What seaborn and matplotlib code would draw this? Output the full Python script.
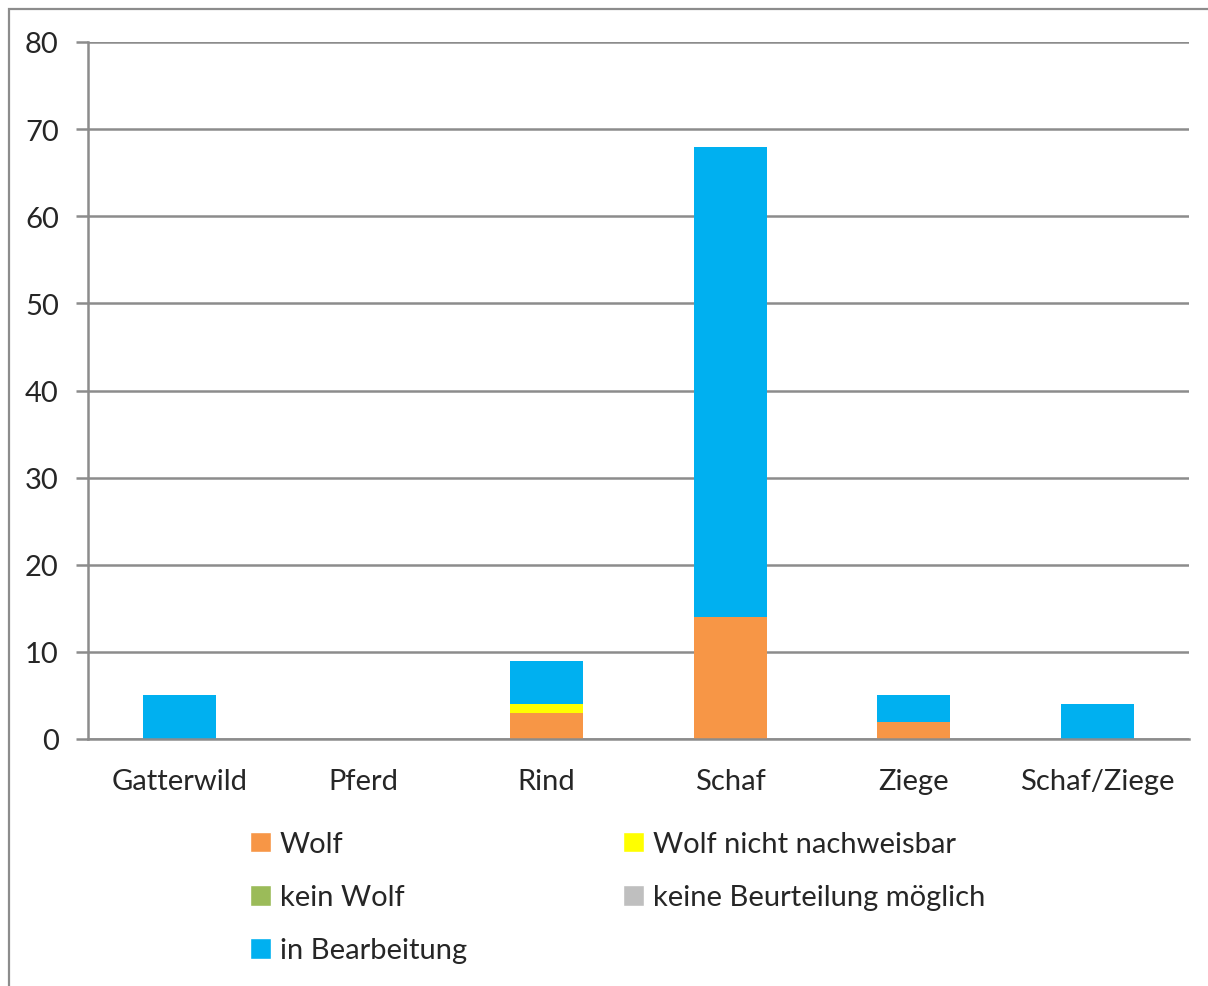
import numpy as np
import pandas as pd
import matplotlib
matplotlib.use('Agg')
import matplotlib.pyplot as plt
from matplotlib.patches import Patch, Rectangle
import seaborn as sns

# data
tiere = ['Gatterwild', 'Pferd', 'Rind', 'Schaf', 'Ziege', 'Schaf/Ziege']
wolf = [0, 0, 3, 14, 2, 0]
nicht_nachweisbar = [0, 0, 1, 0, 0, 0]
kein_wolf = [0, 0, 0, 0, 0, 0]
keine_beurteilung = [0, 0, 0, 0, 0, 0]
in_bearbeitung = [5, 0, 5, 54, 3, 4]

labels = ['Wolf', 'Wolf nicht nachweisbar', 'kein Wolf',
          'keine Beurteilung möglich', 'in Bearbeitung']
colors = ['#F79646', '#FFFF00', '#9BBB59', '#BFBFBF', '#00B0F0']

df = pd.DataFrame({'Tier': tiere, labels[0]: wolf, labels[1]: nicht_nachweisbar,
                   labels[2]: kein_wolf, labels[3]: keine_beurteilung,
                   labels[4]: in_bearbeitung})
cum = df[labels].cumsum(axis=1)

sns.set_style('white')
plt.rcParams['font.family'] = ['Lato', 'DejaVu Sans']

fig = plt.figure(figsize=(12.08, 9.87), dpi=100)
ax = fig.add_axes([88/1208, 1 - 740/987, (1189 - 88)/1208, (740 - 43)/987])

# stacked bars: draw the cumulative totals from the top layer down
for lab, col in reversed(list(zip(labels, colors))):
    sns.barplot(x=df['Tier'], y=cum[lab], color=col, width=0.4,
                saturation=1, ax=ax, edgecolor='none', linewidth=0)

ax.set_xlim(-0.5, 5.5)
ax.set_ylim(0, 80)
ax.set_yticks(np.arange(0, 81, 10))
ax.set_xlabel('')
ax.set_ylabel('')
ax.yaxis.grid(True, color='#8C8C8C', linewidth=1.8)
ax.set_axisbelow(True)
for s in ['top', 'right']:
    ax.spines[s].set_visible(False)
for s in ['left', 'bottom']:
    ax.spines[s].set_color('#8C8C8C')
    ax.spines[s].set_linewidth(1.8)

ax.set_xticks(np.arange(-0.5, 5.6, 1), minor=True)
ax.tick_params(axis='x', which='major', length=0, pad=21, labelsize=21)
ax.tick_params(axis='x', which='minor', length=9, width=1.8, color='#8C8C8C')
ax.tick_params(axis='y', which='major', length=9, width=1.8, color='#8C8C8C',
               labelsize=21, pad=12, left=True)

order = [0, 2, 4, 1, 3]
handles = [Patch(facecolor=colors[i], label=labels[i]) for i in order]
fig.legend(handles=handles, loc='upper left', bbox_to_anchor=(224/1208, 1 - 806/987),
           ncol=2, frameon=False, fontsize=21, handlelength=0.72, handleheight=0.72,
           handletextpad=0.3, labelspacing=0.93, columnspacing=5.35)

fig.patches.append(Rectangle((9/1208, -0.02), 1.05, 1.02 - 10/987, transform=fig.transFigure,
                             fill=False, edgecolor='#8C8C8C', linewidth=1.6))

fig.savefig('out.png', dpi=100)
